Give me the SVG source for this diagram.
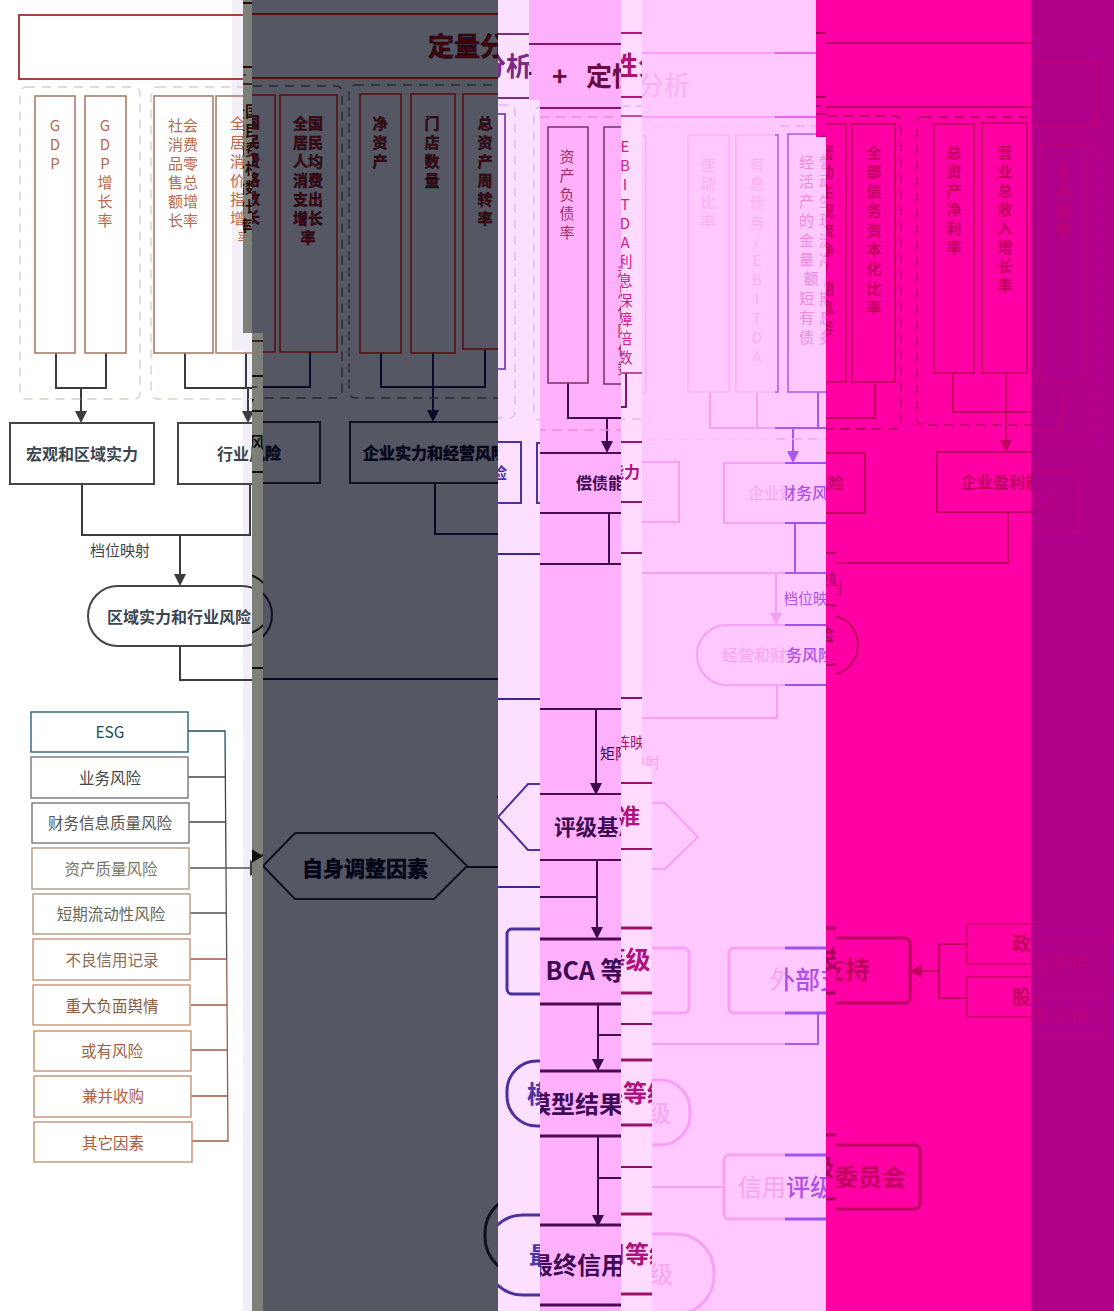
<svg xmlns="http://www.w3.org/2000/svg" width="1114" height="1311" viewBox="0 0 1114 1311">
<style>
text{font-family:"Noto Sans CJK SC","Liberation Sans",sans-serif;text-anchor:middle}
.tl{fill:none;stroke:var(--tl);stroke-width:2}
.tt{fill:var(--tt);font-size:26px;font-weight:var(--nw);text-anchor:start;stroke:var(--ts);stroke-width:.6}
.b{fill:none;stroke:var(--b);stroke-width:1.6}
.bt{fill:var(--bt);font-size:15px;font-weight:var(--w);stroke:var(--ts);stroke-width:.4}
.d{fill:none;stroke:var(--d);stroke-width:1.4;stroke-dasharray:9 7}
.c{fill:none;stroke:var(--c);stroke-width:2}
.ah{fill:var(--c)}
.n{fill:none;stroke:var(--n);stroke-width:2}
.n2{fill:none;stroke:var(--n);stroke-width:3}
.nt{fill:var(--nt);font-size:16px;font-weight:var(--nw);stroke:var(--ts);stroke-width:.5}
.nl{fill:var(--nt);font-size:25px;font-weight:var(--nw);stroke:var(--ts);stroke-width:.6}
.lb{fill:var(--nt);font-size:15px;font-weight:400}
.sm{fill:var(--b);font-size:19px;font-weight:var(--w)}
.sb{fill:none;stroke:var(--b);stroke-width:1.3}
.le{fill:#fff;stroke-width:1.4}
.lt{font-size:15.5px;font-weight:400}
.lc{fill:none;stroke-width:1.3}
.A{--tl:#a8423c;--tt:#555;--b:#a97f6c;--bt:#b9694a;--d:#d9d2c2;--c:#3a3d40;--n:#444;--nt:#3b4650;--w:400;--nw:700;--ts:none}
.B{--tl:#2a0a08;--tt:#111;--b:#2a0a08;--bt:#2a0a08;--d:#333;--c:#111;--n:#111;--nt:#111;--w:700;--nw:700;--ts:none}
.C{--tl:#5a0c10;--tt:#4a0408;--b:#5a1010;--bt:#4a0808;--d:#2a2a35;--c:#0a0a2a;--n:#101020;--nt:#05051a;--w:700;--nw:700;--ts:#05051a}
.D{--tl:#7a3080;--tt:#7b2a88;--b:#6b33b0;--bt:#6b33b0;--d:#cfc0f0;--c:#3a2a90;--n:#4a30a0;--nt:#4b35a8;--w:400;--nw:700;--ts:none}
.E{--tl:#8a1068;--tt:#6a0a40;--b:#7a3a70;--bt:#a0306a;--d:#e890d0;--c:#3d0a50;--n:#4a0a55;--nt:#3d0a55;--w:400;--nw:700;--ts:none}
.F{--tl:#c01080;--tt:#b01070;--b:#b0307a;--bt:#d0208a;--d:#f0b0e0;--c:#8a1070;--n:#a0106a;--nt:#b01080;--w:400;--nw:700;--ts:none}
.G{--tl:#ff9cff;--tt:#f8b0f4;--b:#fab4fa;--bt:#fab0f0;--d:#ffbcff;--c:#f8a0f0;--n:#f8a0f4;--nt:#f8a4f0;--w:400;--nw:400;--ts:none}
.H{--tl:#f060f0;--tt:#f8b0f4;--b:#b060f0;--bt:#f088e0;--d:#f0a0ff;--c:#a858f0;--n:#a050f0;--nt:#b050e8;--w:400;--nw:500;--ts:none}
.K{--tl:#c00068;--tt:#c00060;--b:#c0005e;--bt:#c0005e;--d:#a80058;--c:#c00060;--n:#bb0060;--nt:#c00060;--w:700;--nw:700;--ts:none}
.J{--tl:#a80060;--tt:#a80060;--b:#a80060;--bt:#a80060;--d:#a80060;--c:#a80060;--n:#a80060;--nt:#a80060;--w:700;--nw:700;--ts:none}
.L{--tl:#bf0078;--tt:#bf0078;--b:#bf0078;--bt:#c00070;--d:#bb0080;--c:#bf0078;--n:#bb007c;--nt:#bb007c;--w:400;--nw:400;--ts:none}
</style>
<defs>
<clipPath id="cA"><polygon points="0,0 243,0 243,333 252,333 252,1311 0,1311"/></clipPath>
<clipPath id="cB"><rect x="243" y="0" width="9" height="333"/><rect x="252" y="333" width="11" height="978"/></clipPath>
<clipPath id="cC"><polygon points="252,0 498,0 498,1311 263,1311 263,333 252,333"/></clipPath>
<clipPath id="cD"><polygon points="498,0 529,0 529,100 540,100 540,1311 498,1311"/></clipPath>
<clipPath id="cE"><polygon points="529,0 621,0 621,1311 540,1311 540,100 529,100"/></clipPath>
<clipPath id="cF"><polygon points="621,0 642,0 642,766 652,766 652,1311 621,1311"/></clipPath>
<clipPath id="cG"><polygon points="642,0 775,0 775,445 785,445 785,1311 652,1311 652,766 642,766"/></clipPath>
<clipPath id="cH"><polygon points="775,0 816,0 816,137 826,137 826,1311 785,1311 785,445 775,445"/></clipPath>
<clipPath id="cI"><rect x="816" y="0" width="10" height="137"/></clipPath>
<clipPath id="cJ"><rect x="826" y="520" width="10" height="791"/></clipPath>
<clipPath id="cK"><polygon points="826,0 1031,0 1031,1311 836,1311 836,520 826,520"/></clipPath>
<clipPath id="cL"><rect x="1031" y="0" width="83" height="1311"/></clipPath>
<g id="diagram">
<g id="connectors">
<path class="c" d="M56,353V388H106V353M81,388V412"/>
<path class="ah" d="M75,411H87L81,423Z"/>
<path class="c" d="M185,353V388H310V353M246,353V388M248,388V412"/>
<path class="ah" d="M242,411H254L248,423Z"/>
<path class="c" d="M381,353V388H485V350M433,353V412"/>
<path class="ah" d="M427,411H439L433,423Z"/>
<path class="c" d="M568,354V389H626V355M607,389V413"/>
<path class="ah" d="M601,412H613L607,424Z"/>
<path class="c" d="M710,354V390H875V354M757,354V390M818,354V390M793,390V414"/>
<path class="ah" d="M787,413H799L793,425Z"/>
<path class="c" d="M953,345V384H1060V345M1006,345V413"/>
<path class="ah" d="M1000,412H1012L1006,424Z"/>
<path class="c" d="M82,484V535H250V484M180,535V575"/>
<path class="ah" d="M174,574H186L180,586Z"/>
<path class="c" d="M435,484V535H1008V484M609,484V535M795,485V535M776,535V576"/>
<path class="ah" d="M770,575H782L776,587Z"/>
<path class="c" d="M180,646V680H777V647M596,680V755"/>
<path class="ah" d="M590,754H602L596,766Z"/>
<path class="c" d="M467,868H597M597,830V899"/>
<path class="ah" d="M591,898H603L597,910Z"/>
<path class="c" d="M818,975V1006H598M598,975V1031"/>
<path class="ah" d="M592,1030H604L598,1042Z"/>
<path class="c" d="M724,1149H598M598,1107V1187"/>
<path class="ah" d="M592,1186H604L598,1198Z"/>
<path class="c" d="M967,916H939V970H967M939,943H921"/>
<path class="ah" d="M922,936V950L910,943Z"/>
<path class="lc" stroke="#1f5060" d="M188,731H225L225.2,760"/>
<path class="lc" stroke="#444" d="M225.2,760L226,868M188,777H225.3M189,822H225.7"/>
<path class="lc" stroke="#555" d="M190,868H250M226,868L226.7,959M190,913H226.3"/>
<path class="lc" stroke="#a05a40" d="M226.7,959L228,1141H192M190,959H226.7M191,1005H227M191,1050H227.3M191,1096H227.7"/>
<path class="ah" d="M250,860V876L263,868Z"/>
</g>
<g id="n-title">
<rect class="tl" x="19" y="15" width="1078" height="64"/>
<text class="tt" y="57"><tspan x="428">定量分析</tspan><tspan x="552">+</tspan><tspan x="586">定性分析</tspan></text>
</g>
<g id="dashed-groups">
<rect class="d" x="20" y="87" width="120" height="312" rx="6"/>
<rect class="d" x="151" y="87" width="191" height="312" rx="6"/>
<rect class="d" x="349" y="86" width="166" height="313" rx="6"/>
<rect class="d" x="534" y="88" width="367" height="313" rx="6"/>
<rect class="d" x="917" y="89" width="174" height="308" rx="6"/>
</g>
<g id="n-gdp"><rect class="b" x="35" y="96" width="40" height="257"/><text class="bt"><tspan x="55" y="131">G</tspan><tspan x="55" dy="19">D</tspan><tspan x="55" dy="19">P</tspan></text></g>
<g id="n-gdpg"><rect class="b" x="85" y="96" width="41" height="257"/><text class="bt"><tspan x="105" y="131">G</tspan><tspan x="105" dy="19">D</tspan><tspan x="105" dy="19">P</tspan><tspan x="105" dy="19">增</tspan><tspan x="105" dy="19">长</tspan><tspan x="105" dy="19">率</tspan></text></g>
<g id="n-retail"><rect class="b" x="154" y="96" width="59" height="257"/><text class="bt"><tspan x="183" y="131">社会</tspan><tspan x="183" dy="19">消费</tspan><tspan x="183" dy="19">品零</tspan><tspan x="183" dy="19">售总</tspan><tspan x="183" dy="19">额增</tspan><tspan x="183" dy="19">长率</tspan></text></g>
<g id="n-cpi"><rect class="b" x="216" y="96" width="59" height="257"/><text class="bt"><tspan x="245" y="129">全国</tspan><tspan x="245" dy="19">居民</tspan><tspan x="245" dy="19">消费</tspan><tspan x="245" dy="19">价格</tspan><tspan x="245" dy="19">指数</tspan><tspan x="245" dy="19">增长</tspan><tspan x="245" dy="19">率</tspan></text></g>
<g id="n-spend"><rect class="b" x="280" y="96" width="57" height="257"/><text class="bt"><tspan x="308" y="130">全国</tspan><tspan x="308" dy="19">居民</tspan><tspan x="308" dy="19">人均</tspan><tspan x="308" dy="19">消费</tspan><tspan x="308" dy="19">支出</tspan><tspan x="308" dy="19">增长</tspan><tspan x="308" dy="19">率</tspan></text></g>
<g id="n-net"><rect class="b" x="360" y="95" width="41" height="259"/><text class="bt"><tspan x="380" y="130">净</tspan><tspan x="380" dy="19">资</tspan><tspan x="380" dy="19">产</tspan></text></g>
<g id="n-stores"><rect class="b" x="411" y="95" width="44" height="259"/><text class="bt"><tspan x="432" y="130">门</tspan><tspan x="432" dy="19">店</tspan><tspan x="432" dy="19">数</tspan><tspan x="432" dy="19">量</tspan></text></g>
<g id="n-turn"><rect class="b" x="463" y="95" width="42" height="255"/><text class="bt"><tspan x="485" y="130">总</tspan><tspan x="485" dy="19">资</tspan><tspan x="485" dy="19">产</tspan><tspan x="485" dy="19">周</tspan><tspan x="485" dy="19">转</tspan><tspan x="485" dy="19">率</tspan></text></g>
<g id="n-debt"><rect class="b" x="548" y="98" width="40" height="256"/><text class="bt"><tspan x="567" y="133">资</tspan><tspan x="567" dy="19">产</tspan><tspan x="567" dy="19">负</tspan><tspan x="567" dy="19">债</tspan><tspan x="567" dy="19">率</tspan></text></g>
<g id="n-ebitda"><rect class="b" x="604" y="98" width="42" height="257"/><text class="bt"><tspan x="625" y="134">E</tspan><tspan x="625" dy="19.2">B</tspan><tspan x="625" dy="19.2">I</tspan><tspan x="625" dy="19.2">T</tspan><tspan x="625" dy="19.2">D</tspan><tspan x="625" dy="19.2">A</tspan><tspan x="625" dy="19.2">利</tspan><tspan x="625" dy="19.2">息</tspan><tspan x="625" dy="19.2">保</tspan><tspan x="625" dy="19.2">障</tspan><tspan x="625" dy="19.2">倍</tspan><tspan x="625" dy="19.2">数</tspan></text></g>
<g id="n-quick"><rect class="b" x="688" y="97" width="41" height="257"/><text class="bt"><tspan x="708" y="132">速</tspan><tspan x="708" dy="19">动</tspan><tspan x="708" dy="19">比</tspan><tspan x="708" dy="19">率</tspan></text></g>
<g id="n-ibd"><rect class="b" x="736" y="97" width="42" height="257"/><text class="bt"><tspan x="757" y="132">有</tspan><tspan x="757" dy="19.2">息</tspan><tspan x="757" dy="19.2">债</tspan><tspan x="757" dy="19.2">务</tspan><tspan x="757" dy="19.2">/</tspan><tspan x="757" dy="19.2">E</tspan><tspan x="757" dy="19.2">B</tspan><tspan x="757" dy="19.2">I</tspan><tspan x="757" dy="19.2">T</tspan><tspan x="757" dy="19.2">D</tspan><tspan x="757" dy="19.2">A</tspan></text></g>
<g id="n-cfo"><rect class="b" x="788" y="96" width="58" height="258"/><text class="bt" letter-spacing="5"><tspan x="819" y="130">经营</tspan><tspan x="819" dy="19.4">活动</tspan><tspan x="819" dy="19.4">产生</tspan><tspan x="819" dy="19.4">的现</tspan><tspan x="819" dy="19.4">金流</tspan><tspan x="819" dy="19.4">量净</tspan><tspan x="819" dy="19.4">额/</tspan><tspan x="819" dy="19.4">短期</tspan><tspan x="819" dy="19.4">有息</tspan><tspan x="819" dy="19.4">债务</tspan></text></g>
<g id="n-capital"><rect class="b" x="852" y="96" width="43" height="258"/><text class="bt"><tspan x="874" y="130">全</tspan><tspan x="874" dy="19.4">部</tspan><tspan x="874" dy="19.4">债</tspan><tspan x="874" dy="19.4">务</tspan><tspan x="874" dy="19.4">资</tspan><tspan x="874" dy="19.4">本</tspan><tspan x="874" dy="19.4">化</tspan><tspan x="874" dy="19.4">比</tspan><tspan x="874" dy="19.4">率</tspan></text></g>
<g id="n-roa"><rect class="b" x="934" y="96" width="40" height="249"/><text class="bt"><tspan x="954" y="130">总</tspan><tspan x="954" dy="19">资</tspan><tspan x="954" dy="19">产</tspan><tspan x="954" dy="19">净</tspan><tspan x="954" dy="19">利</tspan><tspan x="954" dy="19">率</tspan></text></g>
<g id="n-rev"><rect class="b" x="982" y="95" width="45" height="250"/><text class="bt"><tspan x="1005" y="130">营</tspan><tspan x="1005" dy="19">业</tspan><tspan x="1005" dy="19">总</tspan><tspan x="1005" dy="19">收</tspan><tspan x="1005" dy="19">入</tspan><tspan x="1005" dy="19">增</tspan><tspan x="1005" dy="19">长</tspan><tspan x="1005" dy="19">率</tspan></text></g>
<g id="n-margin"><rect class="b" x="1040" y="98" width="45" height="238"/><text class="bt"><tspan x="1063" y="131">净</tspan><tspan x="1063" dy="19">利</tspan><tspan x="1063" dy="19">润</tspan><tspan x="1063" dy="19">率</tspan></text></g>
<g id="n-macro"><rect class="n" x="10" y="423" width="144" height="61"/><text class="nt" x="82" y="460">宏观和区域实力</text></g>
<g id="n-industry"><rect class="n" x="178" y="423" width="142" height="61"/><text class="nt" x="249" y="460">行业风险</text></g>
<g id="n-ent"><rect class="n" x="350" y="423" width="171" height="61"/><text class="nt" x="435" y="460">企业实力和经营风险</text></g>
<g id="n-solv"><rect class="n" x="537" y="424" width="142" height="60"/><text class="nt" x="608" y="460">偿债能力</text></g>
<g id="n-fin"><rect class="n" x="724" y="425" width="141" height="60"/><text class="nt" x="796" y="461">企业财务风险</text></g>
<g id="n-profit"><rect class="n" x="937" y="424" width="141" height="60"/><text class="nt" x="1009" y="460">企业盈利能力</text></g>
<text class="lb" x="120" y="556">档位映射</text>
<text class="lb" x="813" y="566">档位映射</text>
<text class="lb" x="630" y="730">矩阵映射</text>
<g id="n-region"><rect class="n" x="88" y="586" width="184" height="60" rx="30"/><text class="nt" x="179" y="623">区域实力和行业风险</text></g>
<g id="n-opfin"><rect class="n" x="697" y="587" width="161" height="60" rx="30"/><text class="nt" x="778" y="623">经营和财务风险</text></g>
<g id="n-self"><polygon class="n" points="263,867 295,834 434,834 467,867 434,900 295,900"/><text class="nl" x="365" y="877" style="font-size:21px">自身调整因素</text></g>
<g id="n-base"><polygon class="n" points="498,798 528,765 665,765 698,799 665,831 528,831"/><text class="nl" x="597" y="806" style="font-size:21.5px">评级基准</text></g>
<g id="n-bca"><rect class="n2" x="507" y="910" width="182" height="65" rx="5"/><text class="nl" x="598" y="951">BCA 等级</text></g>
<g id="n-ext"><rect class="n2" x="729" y="910" width="181" height="65" rx="5"/><text class="nl" x="820" y="951">外部支持</text></g>
<g id="n-gov"><rect class="sb" x="967" y="896" width="138" height="40"/><text class="sm" x="1050" y="923">政府支持</text></g>
<g id="n-share"><rect class="sb" x="967" y="949" width="138" height="40"/><text class="sm" x="1050" y="976">股东支持</text></g>
<g id="n-model"><rect class="n2" x="507" y="1042" width="183" height="65" rx="30"/><text class="nl" x="599" y="1084" style="font-size:24px">模型结果等级</text></g>
<g id="n-comm"><rect class="n2" x="724" y="1117" width="196" height="64" rx="5"/><text class="nl" x="822" y="1158" style="font-size:24px">信用评级委员会</text></g>
<g id="n-final"><rect class="n2" x="485" y="1196" width="229" height="80" rx="38"/><text class="nl" x="601" y="1245" style="font-size:24px">最终信用等级</text></g>
<g id="n-esg"><rect class="le" stroke="#2a5f75" x="31" y="712" width="157" height="40"/><text class="lt" fill="#1f4a5c" x="110" y="738">ESG</text></g>
<g id="n-l1"><rect class="le" stroke="#777" x="31" y="757" width="157" height="41"/><text class="lt" fill="#444" x="110" y="784">业务风险</text></g>
<g id="n-l2"><rect class="le" stroke="#777" x="32" y="803" width="157" height="40"/><text class="lt" fill="#555" x="110" y="829">财务信息质量风险</text></g>
<g id="n-l3"><rect class="le" stroke="#b09a88" x="32" y="848" width="157" height="41"/><text class="lt" fill="#776" x="111" y="875">资产质量风险</text></g>
<g id="n-l4"><rect class="le" stroke="#b09a88" x="33" y="894" width="157" height="40"/><text class="lt" fill="#665" x="111" y="920">短期流动性风险</text></g>
<g id="n-l5"><rect class="le" stroke="#c89578" x="33" y="939" width="157" height="41"/><text class="lt" fill="#8a6a58" x="112" y="966">不良信用记录</text></g>
<g id="n-l6"><rect class="le" stroke="#c89578" x="33" y="985" width="157" height="40"/><text class="lt" fill="#8a5a40" x="112" y="1012">重大负面舆情</text></g>
<g id="n-l7"><rect class="le" stroke="#c89070" x="34" y="1031" width="157" height="40"/><text class="lt" fill="#9a5f45" x="112" y="1057">或有风险</text></g>
<g id="n-l8"><rect class="le" stroke="#c89070" x="34" y="1076" width="157" height="41"/><text class="lt" fill="#b0603f" x="113" y="1102">兼并收购</text></g>
<g id="n-l9"><rect class="le" stroke="#c89070" x="34" y="1122" width="158" height="40"/><text class="lt" fill="#a85a3c" x="113" y="1149">其它因素</text></g>
</g>
</defs>
<g id="bands">
<rect x="0" y="0" width="252" height="1311" fill="#fff"/>
<polygon points="232,0 243,0 243,333 252,333 252,1311 243,1311 243,350 232,350" fill="#f3eff8"/>
<rect x="243" y="0" width="9" height="333" fill="#7d8078"/>
<rect x="252" y="333" width="11" height="978" fill="#7d8078"/>
<polygon points="252,0 498,0 498,1311 263,1311 263,333 252,333" fill="#555763"/>
<polygon points="498,0 529,0 529,100 540,100 540,1311 498,1311" fill="#fde0ff"/>
<polygon points="529,0 621,0 621,1311 540,1311 540,100 529,100" fill="#ffb0fa"/>
<polygon points="621,0 642,0 642,766 652,766 652,1311 621,1311" fill="#ffdcff"/>
<polygon points="642,0 826,0 826,1311 652,1311 652,766 642,766" fill="#ffc8ff"/>
<rect x="816" y="0" width="10" height="137" fill="#ff00a5"/>
<rect x="826" y="0" width="205" height="1311" fill="#ff00a5"/>
<rect x="1031" y="0" width="83" height="1311" fill="#b0008a"/>
</g>
<g class="A" clip-path="url(#cA)"><use href="#diagram"/></g>
<g class="B" clip-path="url(#cB)"><use href="#diagram" y="-12"/></g>
<g class="C" clip-path="url(#cC)"><use href="#diagram" y="-1"/></g>
<g class="D" clip-path="url(#cD)"><use href="#diagram" y="19"/></g>
<g class="E" clip-path="url(#cE)"><use href="#diagram" y="29"/></g>
<g class="F" clip-path="url(#cF)"><use href="#diagram" y="18"/></g>
<g class="G" clip-path="url(#cG)"><use href="#diagram" y="38"/></g>
<g class="H" clip-path="url(#cH)"><use href="#diagram" y="38"/></g>
<g class="J" clip-path="url(#cI)"><use href="#diagram" y="18"/></g>
<g class="K" clip-path="url(#cK)"><use href="#diagram" y="28"/></g>
<g class="J" clip-path="url(#cJ)"><use href="#diagram" y="18"/></g>
<g class="L" clip-path="url(#cL)"><use href="#diagram" y="47"/></g>
</svg>
